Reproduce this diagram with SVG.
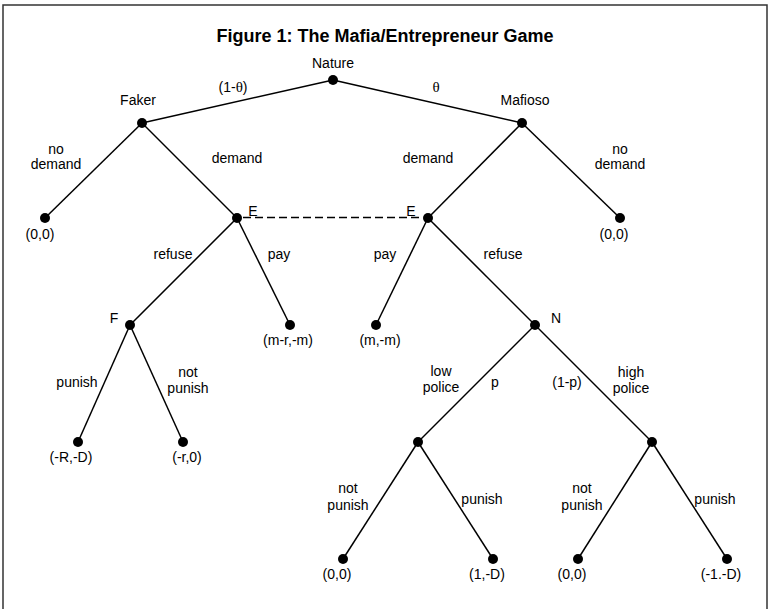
<svg xmlns="http://www.w3.org/2000/svg" width="770" height="609" viewBox="0 0 770 609">
<defs>
<style>
.t{font-family:"Liberation Sans",Arial,sans-serif;font-size:14px;fill:#000;text-anchor:middle}
.ti{font-family:"Liberation Sans",Arial,sans-serif;font-size:18px;font-weight:bold;fill:#000;text-anchor:middle}
.g{font-family:"Liberation Serif","Times New Roman",serif;font-size:15px}
.e line{stroke:#000;stroke-width:1.5}
.d{fill:#000}
</style>
</defs>
<rect width="770" height="609" fill="#fff"/>
<path d="M3,609 V5 H767 V609" fill="none" stroke="#333" stroke-width="1.5"/>
<text class="ti" x="385" y="42">Figure 1: The Mafia/Entrepreneur Game</text>
<g id="connectors" class="e">
<line x1="333" y1="80" x2="142" y2="123"/>
<line x1="333" y1="80" x2="522" y2="123"/>
<line x1="142" y1="123" x2="45" y2="218"/>
<line x1="142" y1="123" x2="237" y2="218"/>
<line x1="522" y1="123" x2="428" y2="218"/>
<line x1="522" y1="123" x2="620" y2="218"/>
<line x1="237" y1="218" x2="130" y2="325"/>
<line x1="237" y1="218" x2="290" y2="325"/>
<line x1="428" y1="218" x2="376" y2="325"/>
<line x1="428" y1="218" x2="535" y2="325"/>
<line x1="130" y1="325" x2="78" y2="442"/>
<line x1="130" y1="325" x2="183" y2="442"/>
<line x1="535" y1="325" x2="418" y2="442"/>
<line x1="535" y1="325" x2="652" y2="442"/>
<line x1="418" y1="442" x2="343" y2="559"/>
<line x1="418" y1="442" x2="493" y2="559"/>
<line x1="652" y1="442" x2="578" y2="559"/>
<line x1="652" y1="442" x2="727" y2="559"/>
<line x1="243" y1="217.5" x2="422" y2="217.5" stroke-dasharray="8,4"/>
</g>
<g id="edge-labels">
<text class="t" x="233" y="92">(1-<tspan class="g">θ</tspan>)</text>
<text class="t g" x="436" y="92">θ</text>
<text class="t" x="56" y="154">no</text>
<text class="t" x="56" y="169">demand</text>
<text class="t" x="237" y="163">demand</text>
<text class="t" x="428" y="163">demand</text>
<text class="t" x="620" y="154">no</text>
<text class="t" x="620" y="169">demand</text>
<text class="t" x="173" y="259">refuse</text>
<text class="t" x="279" y="259">pay</text>
<text class="t" x="385" y="259">pay</text>
<text class="t" x="503" y="259">refuse</text>
<text class="t" x="77" y="387">punish</text>
<text class="t" x="188" y="377">not</text>
<text class="t" x="188" y="393">punish</text>
<text class="t" x="441" y="376">low</text>
<text class="t" x="441" y="392">police</text>
<text class="t" x="495" y="387">p</text>
<text class="t" x="567" y="387">(1-p)</text>
<text class="t" x="631" y="377">high</text>
<text class="t" x="631" y="393">police</text>
<text class="t" x="348" y="493">not</text>
<text class="t" x="348" y="510">punish</text>
<text class="t" x="482" y="504">punish</text>
<text class="t" x="582" y="493">not</text>
<text class="t" x="582" y="510">punish</text>
<text class="t" x="715" y="504">punish</text>
</g>
<g id="nature"><circle class="d" cx="333" cy="80" r="5"/><text class="t" x="333" y="68">Nature</text></g>
<g id="faker"><circle class="d" cx="142" cy="123" r="5"/><text class="t" x="138" y="105">Faker</text></g>
<g id="mafioso"><circle class="d" cx="522" cy="123" r="5"/><text class="t" x="525" y="105">Mafioso</text></g>
<g id="faker-nodemand"><circle class="d" cx="45" cy="218" r="5"/><text class="t" x="40" y="239">(0,0)</text></g>
<g id="e-left"><circle class="d" cx="237" cy="218" r="5"/><text class="t" x="253" y="216">E</text></g>
<g id="e-right"><circle class="d" cx="428" cy="218" r="5"/><text class="t" x="411" y="216">E</text></g>
<g id="mafioso-nodemand"><circle class="d" cx="620" cy="218" r="5"/><text class="t" x="614" y="239">(0,0)</text></g>
<g id="f"><circle class="d" cx="130" cy="325" r="5"/><text class="t" x="114" y="323">F</text></g>
<g id="faker-pay"><circle class="d" cx="290" cy="325" r="5"/><text class="t" x="288" y="345">(m-r,-m)</text></g>
<g id="mafioso-pay"><circle class="d" cx="376" cy="325" r="5"/><text class="t" x="380" y="345">(m,-m)</text></g>
<g id="n"><circle class="d" cx="535" cy="325" r="5"/><text class="t" x="556" y="323">N</text></g>
<g id="f-punish"><circle class="d" cx="78" cy="442" r="5"/><text class="t" x="71" y="462">(-R,-D)</text></g>
<g id="f-notpunish"><circle class="d" cx="183" cy="442" r="5"/><text class="t" x="187" y="462">(-r,0)</text></g>
<g id="low"><circle class="d" cx="418" cy="442" r="5"/></g>
<g id="high"><circle class="d" cx="652" cy="442" r="5"/></g>
<g id="low-notpunish"><circle class="d" cx="343" cy="559" r="5"/><text class="t" x="337" y="579">(0,0)</text></g>
<g id="low-punish"><circle class="d" cx="493" cy="559" r="5"/><text class="t" x="487" y="579">(1,-D)</text></g>
<g id="high-notpunish"><circle class="d" cx="578" cy="559" r="5"/><text class="t" x="572" y="579">(0,0)</text></g>
<g id="high-punish"><circle class="d" cx="727" cy="559" r="5"/><text class="t" x="721" y="579">(-1.-D)</text></g>
</svg>
